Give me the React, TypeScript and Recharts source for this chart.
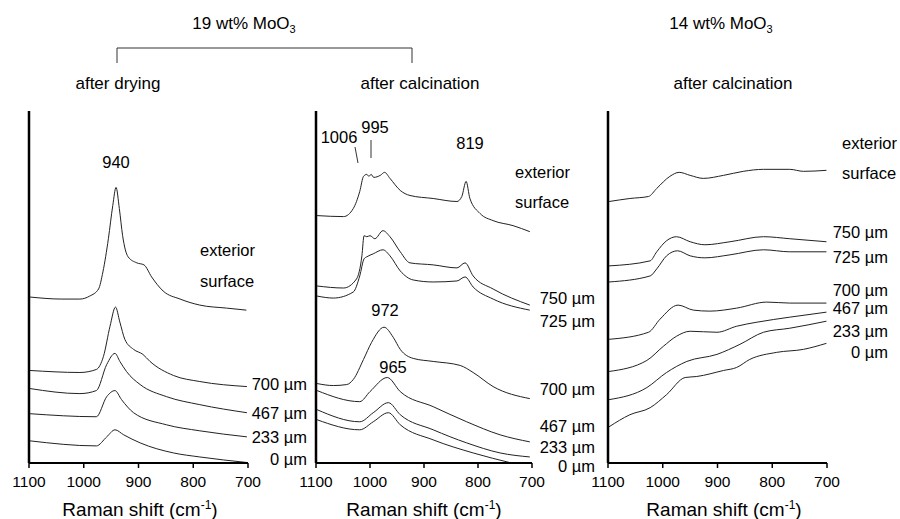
import React from "react";
import { LineChart, Line, XAxis, YAxis } from "recharts";

type P = { w: number; v: number };
const pts = (a: number[][]): P[] => a.map(([w, v]) => ({ w, v }));

// Raman shift ticks (cm-1)
const shiftTicks = [1100, 1000, 900, 800, 700];

// Panel 1: 19 wt% MoO3, after drying
const dryExterior = pts([[1098,165],[1040,163],[1007,163],[989,166],[973,173],[965,190],[955,223],[947,256],[941,274],[935,253],[929,226],[919,205],[903,199],[890,197],[876,185],[855,171],[824,163],[788,157],[739,154],[703,152]]);
const dry700 = pts([[1098,92],[1007,90],[977,93],[964,106],[952,136],[942,155],[934,140],[925,123],[909,113],[892,108],[879,101],[836,87],[788,81],[702,76]]);
const dry467 = pts([[1098,74],[1007,69],[977,72],[958,98],[943,109],[934,101],[922,91],[897,78],[849,66],[788,58],[702,50]]);
const dry233 = pts([[1098,49],[977,46],[958,66],[943,72],[931,63],[909,50],[849,38],[788,32],[702,26]]);
const dry0 = pts([[1098,22],[977,17],[958,26],[943,33],[927,28],[897,20],[836,10],[788,6],[702,0.5]]);

// Panel 2: 19 wt% MoO3, after calcination
const calcExterior = pts([[1098,246],[1049,245],[1031,253],[1019,270],[1012,285],[1006,287],[1002,285],[998,287],[993,284],[981,286],[973,289],[963,283],[944,271],[926,266],[883,263],[839,260],[830,265],[822,280],[815,263],[796,248],[772,241],[735,236],[704,230]]);
const calc750 = pts([[1098,176],[1049,174],[1025,183],[1015,206],[1011,226],[1006,225],[1000,226],[991,223],[976,231],[963,225],[944,210],[926,199],[883,197],[839,194],[824,199],[809,186],[772,173],[704,157]]);
const calc725 = pts([[1098,166],[1068,164],[1031,170],[1019,186],[1011,203],[1006,205],[994,208],[976,212],[963,206],[944,191],[920,182],[883,180],[839,181],[824,185],[809,175],[772,163],[704,152]]);
const calc700 = pts([[1098,79],[1068,77],[1043,78],[1031,83],[1012,103],[997,120],[974,135],[957,125],[944,113],[920,104],[883,101],[833,97],[809,90],[772,76],[704,64]]);
const calc467 = pts([[1098,72],[1019,61],[1000,71],[968,85],[944,71],[883,56],[821,41],[759,28],[704,21]]);
const calc233 = pts([[1098,53],[1019,41],[994,50],[966,60],[944,48],[883,33],[821,20],[759,10],[704,6]]);
const calc0 = pts([[1098,43],[1019,33],[994,41],[966,50],[944,38],[883,23],[809,10],[738,0]]);

// Panel 3: 14 wt% MoO3, after calcination
const c14Exterior = pts([[1098,260],[1060,263],[1026,265],[1011,273],[987,285],[970,289],[950,286],[926,283],[889,286],[853,290],[816,292],[768,292],[743,290],[701,291]]);
const c14_750 = pts([[1098,196],[1023,201],[1011,210],[993,221],[975,225],[950,220],[923,217],[877,220],[816,225],[768,223],[701,220]]);
const c14_725 = pts([[1098,180],[1023,186],[1011,193],[993,206],[973,211],[950,206],[923,204],[877,207],[816,212],[768,210],[701,210]]);
const c14_700 = pts([[1098,123],[1026,130],[1005,143],[972,157],[944,152],[914,151],[865,154],[810,160],[768,159],[701,159]]);
const c14_467 = pts([[1098,91],[1029,102],[999,116],[975,126],[950,131],[901,130],[865,136],[828,140],[768,145],[701,150]]);
const c14_233 = pts([[1098,63],[1029,75],[993,90],[956,101],[901,108],[859,118],[816,130],[768,134],[701,141]]);
const c14_0 = pts([[1098,36],[1060,48],[1023,55],[993,68],[959,85],[938,86],[889,92],[865,95],[841,103],[792,110],[743,113],[701,119]]);

const panel1 = [dryExterior, dry700, dry467, dry233, dry0];
const panel2 = [calcExterior, calc750, calc725, calc700, calc467, calc233, calc0];
const panel3 = [c14Exterior, c14_750, c14_725, c14_700, c14_467, c14_233, c14_0];

const FONT = "'Liberation Sans', Arial, sans-serif";
const W = 900;
const H = 519;

function Panel({ series, left, right, top, bottom }: { series: P[][]; left: number; right: number; top: number; bottom: number }) {
  return (
    <div style={{ position: "absolute", left: 0, top: 0 }}>
      <LineChart width={W} height={H} margin={{ left: left - 1, right: W - right, top, bottom: H - bottom - 1 }}>
        <XAxis
          type="number"
          dataKey="w"
          domain={[700, 1100]}
          reversed
          ticks={shiftTicks}
          allowDataOverflow
          height={1}
          axisLine={{ stroke: "#000", strokeWidth: 2 }}
          tickLine={{ stroke: "#000", strokeWidth: 1.5 }}
          tickSize={5}
          tickMargin={8}
          tick={{ fill: "#000", fontSize: 15.5, fontFamily: FONT }}
        />
        <YAxis
          type="number"
          domain={[0, 350]}
          allowDataOverflow
          width={1}
          tick={false}
          tickLine={false}
          axisLine={{ stroke: "#000", strokeWidth: 2.5 }}
        />
        {series.map((d, i) => (
          <Line key={i} data={d} dataKey="v" type="monotone" dot={false} stroke="#222" strokeWidth={1} isAnimationActive={false} />
        ))}
      </LineChart>
    </div>
  );
}

function T({ x, y, children, anchor = "middle", size = 16.5 }: { x: number; y: number; children: React.ReactNode; anchor?: string; size?: number }) {
  return (
    <text x={x} y={y} textAnchor={anchor as any} fontSize={size} fontFamily={FONT} fill="#000">
      {children}
    </text>
  );
}

const Mu = ({ s }: { s: string }) => <>{s} µm</>;

function AxisTitle({ x }: { x: number }) {
  return (
    <text x={x} y={516} textAnchor="middle" fontSize={19} fontFamily={FONT} fill="#000">
      Raman shift (cm<tspan dy={-7} fontSize={12}>-1</tspan><tspan dy={7}>)</tspan>
    </text>
  );
}

export default function App() {
  return (
    <div style={{ position: "absolute", left: 0, top: 0, width: W, height: H, background: "#fff" }}>
      <Panel series={panel1} left={29} right={248} top={111} bottom={463} />
      <Panel series={panel2} left={316} right={532} top={111} bottom={463} />
      <Panel series={panel3} left={608} right={827} top={111} bottom={463} />
      <svg width={W} height={H} style={{ position: "absolute", left: 0, top: 0, pointerEvents: "none" }}>
        {/* headers */}
        <text x={244} y={29} textAnchor="middle" fontSize={17} fontFamily={FONT}>
          19 wt% MoO<tspan dy={4} fontSize={11}>3</tspan>
        </text>
        <path d="M117,63 V48 H412 V63" fill="none" stroke="#333" strokeWidth={1} />
        <T x={118} y={89} size={17}>after drying</T>
        <T x={420} y={89} size={17}>after calcination</T>
        <text x={721} y={29} textAnchor="middle" fontSize={17} fontFamily={FONT}>
          14 wt% MoO<tspan dy={4} fontSize={11}>3</tspan>
        </text>
        <T x={733} y={89} size={17}>after calcination</T>

        {/* panel 1 annotations */}
        <T x={116} y={168}>940</T>
        <T x={200} y={256} anchor="start">exterior</T>
        <T x={200} y={287} anchor="start">surface</T>
        <T x={307} y={390} anchor="end"><Mu s="700" /></T>
        <T x={307} y={419} anchor="end"><Mu s="467" /></T>
        <T x={307} y={443} anchor="end"><Mu s="233" /></T>
        <T x={307} y={465} anchor="end"><Mu s="0" /></T>

        {/* panel 2 annotations */}
        <T x={339} y={143}>1006</T>
        <T x={375} y={133}>995</T>
        <line x1={355} y1={147} x2={358} y2={163} stroke="#333" strokeWidth={1} />
        <line x1={371} y1={140} x2={371} y2={158} stroke="#333" strokeWidth={1} />
        <T x={470} y={149}>819</T>
        <T x={515} y={178} anchor="start">exterior</T>
        <T x={515} y={208} anchor="start">surface</T>
        <T x={595} y={304} anchor="end"><Mu s="750" /></T>
        <T x={595} y={327} anchor="end"><Mu s="725" /></T>
        <T x={385} y={316}>972</T>
        <T x={393} y={373}>965</T>
        <T x={595} y={395} anchor="end"><Mu s="700" /></T>
        <T x={595} y={432} anchor="end"><Mu s="467" /></T>
        <T x={595} y={453} anchor="end"><Mu s="233" /></T>
        <T x={595} y={472} anchor="end"><Mu s="0" /></T>

        {/* panel 3 annotations */}
        <T x={842} y={149} anchor="start">exterior</T>
        <T x={842} y={179} anchor="start">surface</T>
        <T x={888} y={238} anchor="end"><Mu s="750" /></T>
        <T x={888} y={263} anchor="end"><Mu s="725" /></T>
        <T x={888} y={296} anchor="end"><Mu s="700" /></T>
        <T x={888} y={314} anchor="end"><Mu s="467" /></T>
        <T x={888} y={337} anchor="end"><Mu s="233" /></T>
        <T x={888} y={358} anchor="end"><Mu s="0" /></T>

        <AxisTitle x={140} />
        <AxisTitle x={424} />
        <AxisTitle x={724} />
      </svg>
    </div>
  );
}
